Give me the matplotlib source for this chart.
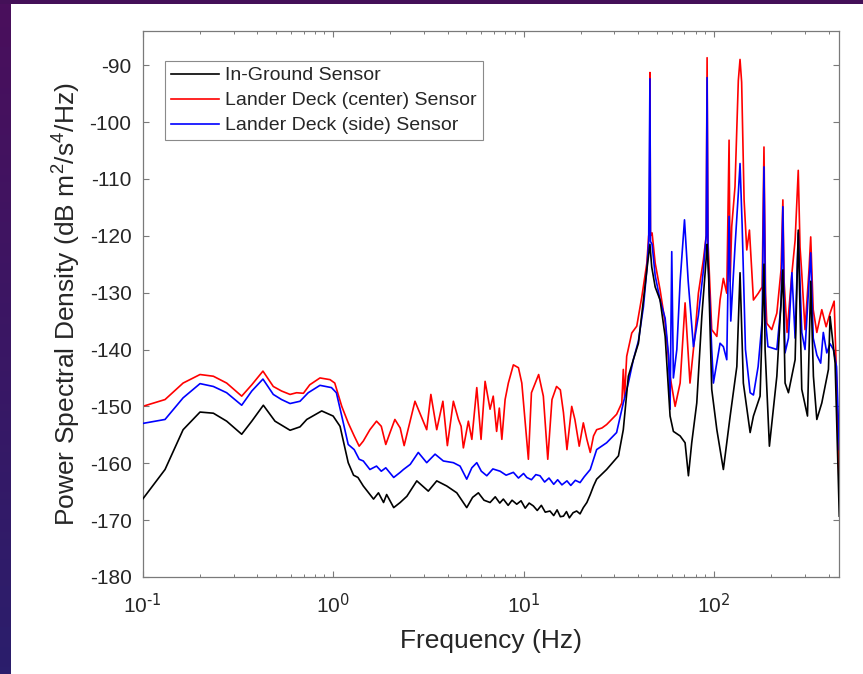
import matplotlib.pyplot as plt
import numpy as np
from matplotlib.patches import Rectangle
from matplotlib.ticker import FixedLocator, FuncFormatter, NullFormatter

# valores (Hz, dB)
freq_suelo = [0.1, 0.131, 0.163, 0.2, 0.235, 0.276, 0.331, 0.374, 0.43, 0.495,
              0.594, 0.67, 0.727, 0.871, 1.0, 1.087, 1.2, 1.28, 1.35, 1.44,
              1.63, 1.73, 1.84, 1.91, 2.08, 2.25, 2.44, 2.75, 3.16, 3.5,
              3.95, 4.46, 5.03, 5.4, 5.79, 6.2, 6.67, 7.1, 7.5, 7.83,
              8.3, 8.7, 9.21, 9.7, 10.2, 10.7, 11.25, 11.8, 12.4, 13.0,
              13.76, 14.4, 15.0, 15.6, 16.2, 16.8, 17.4, 18.2, 19.0, 19.8,
              20.6, 21.5, 22.4, 23.3, 24.2, 27.3, 31.5, 33.4, 35.5, 37.7,
              40.1, 42.6, 44.4, 46.1, 47.1, 49.1, 52.1, 55.4, 58.8, 61.2,
              66.4, 70.5, 73.4, 76.4, 81.2, 86.3, 91.0, 92.0, 93.7, 97.3,
              103.5, 112.0, 121.6, 131.8, 137.0, 142.6, 154.8, 161.1, 174.6, 183.0,
              185.5, 195.4, 213.8, 230.0, 236.2, 246.0, 266.7, 277.0, 289.0, 309.7,
              322.0, 332.7, 346.7, 368.2, 399.0, 407.0, 432.5, 455.0]
psd_suelo = [-166.3, -161.1, -154.1, -151.0, -151.2, -152.6, -154.9, -152.6, -149.8, -152.6,
             -154.2, -153.6, -152.3, -150.8, -151.7, -153.5, -159.9, -162.1, -162.5, -164.0,
             -166.3, -165.2, -166.9, -165.5, -167.8, -166.9, -165.8, -163.1, -164.9, -163.1,
             -164.0, -165.2, -167.8, -166.0, -165.2, -166.5, -166.9, -165.9, -167.0, -166.3,
             -167.4, -166.5, -167.2, -166.6, -167.9, -167.0, -167.5, -168.3, -167.4, -168.6,
             -168.4, -169.2, -168.2, -169.4, -169.3, -168.5, -169.6, -168.7, -168.4, -168.9,
             -167.8, -166.9, -165.5, -164.0, -162.8, -161.1, -158.7, -154.1, -144.7, -141.8,
             -138.9, -131.3, -126.0, -121.5, -125.5, -129.0, -131.3, -137.7, -151.7, -154.4,
             -155.2, -156.4, -162.2, -156.4, -149.4, -134.2, -124.0, -121.5, -127.0, -147.0,
             -154.1, -161.1, -151.7, -143.0, -126.5, -145.9, -154.6, -151.7, -148.2, -125.0,
             -140.0, -157.0, -144.7, -126.0, -145.9, -147.6, -141.8, -119.0, -147.0, -151.7,
             -128.0, -144.7, -152.3, -149.4, -143.5, -134.2, -142.4, -169.3]

freq_centro = [0.1, 0.131, 0.163, 0.2, 0.235, 0.276, 0.331, 0.374, 0.428, 0.485,
               0.536, 0.594, 0.643, 0.698, 0.754, 0.853, 0.963, 1.02, 1.11, 1.2,
               1.29, 1.37, 1.44, 1.56, 1.69, 1.79, 1.89, 1.99, 2.11, 2.25,
               2.36, 2.69, 3.10, 3.26, 3.50, 3.77, 3.98, 4.28, 4.55, 4.70,
               4.83, 5.13, 5.35, 5.68, 5.98, 6.28, 6.67, 6.93, 7.22, 7.46,
               7.69, 8.00, 8.32, 8.84, 9.40, 9.79, 10.6, 11.0, 12.0, 12.7,
               13.4, 14.1, 14.9, 15.6, 16.2, 16.9, 17.9, 18.6, 19.6, 20.6,
               21.5, 22.4, 23.3, 24.2, 25.8, 27.3, 29.0, 30.8, 32.8, 33.4,
               33.9, 34.8, 37.0, 39.3, 41.8, 44.4, 45.4, 45.9, 46.1, 46.4,
               47.3, 49.1, 52.1, 55.4, 58.8, 62.5, 66.4, 70.5, 74.8, 79.6,
               82.8, 88.0, 91.0, 92.0, 93.0, 97.3, 103.5, 107.6, 112.0, 116.7,
               120.0, 121.6, 123.9, 128.9, 134.2, 137.0, 139.7, 143.9, 148.6, 153.5,
               161.1, 171.0, 179.0, 183.0, 186.5, 189.3, 201.1, 213.8, 225.0, 230.0,
               233.4, 242.0, 256.5, 266.7, 277.0, 283.0, 289.0, 300.6, 315.5, 322.0,
               331.9, 346.7, 368.2, 388.0, 407.0, 427.6, 440.0, 455.0]
psd_centro = [-150.0, -148.8, -145.9, -144.4, -144.7, -145.9, -148.2, -146.2, -143.8, -146.5,
              -147.3, -147.9, -147.6, -147.7, -146.2, -145.0, -145.3, -145.9, -150.0, -152.9,
              -155.2, -157.0, -156.1, -154.1, -152.6, -153.5, -156.7, -154.6, -152.3, -153.8,
              -156.9, -149.1, -154.1, -147.9, -154.1, -149.1, -156.9, -149.1, -152.3, -153.5,
              -157.3, -152.6, -155.8, -146.7, -155.8, -145.6, -150.5, -148.2, -154.4, -150.3,
              -155.8, -148.8, -145.9, -142.7, -143.2, -145.9, -159.3, -147.6, -144.4, -148.2,
              -159.3, -148.8, -146.5, -147.1, -151.1, -157.6, -150.0, -152.3, -157.0, -152.9,
              -155.8, -158.1, -155.2, -154.1, -153.8, -153.2, -152.3, -151.4, -149.4, -143.5,
              -148.5, -141.2, -137.1, -135.9, -130.7, -124.8, -120.0, -119.5, -91.3, -120.0,
              -119.5, -124.8, -129.5, -135.3, -144.7, -150.0, -145.9, -131.8, -145.9, -137.1,
              -130.1, -124.2, -120.0, -88.7, -121.0, -136.5, -137.7, -131.3, -127.5, -130.1,
              -103.2, -128.0, -118.4, -111.4, -92.7, -89.0, -93.0, -113.7, -122.5, -119.0,
              -131.3, -130.1, -129.0, -104.4, -130.0, -135.4, -136.5, -133.6, -126.0, -113.7,
              -128.0, -137.0, -126.6, -120.8, -108.5, -122.0, -126.6, -136.5, -126.0, -120.2,
              -133.0, -137.0, -133.0, -136.0, -133.6, -131.5, -145.0, -165.8]

freq_lado = [0.1, 0.131, 0.163, 0.2, 0.235, 0.276, 0.331, 0.374, 0.428, 0.485,
             0.536, 0.594, 0.67, 0.74, 0.853, 0.98, 1.04, 1.11, 1.2, 1.29,
             1.37, 1.44, 1.56, 1.69, 1.79, 1.89, 2.08, 2.25, 2.34, 2.54,
             2.80, 3.10, 3.43, 3.79, 4.28, 4.64, 5.03, 5.35, 5.68, 6.0,
             6.41, 6.9, 7.53, 8.1, 8.84, 9.4, 10.0, 10.4, 11.0, 11.6,
             12.2, 12.9, 13.6, 14.4, 15.1, 15.9, 16.9, 17.7, 18.7, 19.8,
             20.8, 22.4, 24.2, 27.3, 30.8, 33.4, 35.5, 37.7, 40.1, 42.6,
             44.4, 45.4, 46.1, 46.4, 47.3, 49.1, 52.1, 55.4, 57.7, 58.8,
             60.0, 61.2, 63.8, 66.4, 70.0, 73.2, 78.0, 82.8, 88.0, 91.0,
             92.0, 93.0, 97.3, 99.3, 107.6, 112.0, 116.7, 120.0, 122.5, 128.9,
             134.5, 137.0, 140.5, 146.3, 154.8, 161.1, 170.5, 179.0, 183.0, 186.5,
             192.0, 213.8, 225.0, 230.0, 233.4, 236.0, 246.0, 256.5, 266.7, 277.0,
             289.0, 300.6, 322.0, 332.0, 347.0, 363.3, 375.0, 391.0, 407.0, 423.6,
             440.0, 455.0]
psd_lado = [-153.0, -152.3, -148.5, -146.0, -146.5, -147.6, -149.8, -147.3, -145.2, -147.9,
            -148.8, -149.5, -149.1, -147.6, -146.3, -146.7, -147.6, -151.7, -156.7, -157.6,
            -159.3, -159.6, -161.1, -160.5, -161.4, -160.8, -162.5, -161.6, -161.1, -160.2,
            -158.1, -159.9, -158.4, -159.6, -159.9, -160.5, -162.8, -160.8, -159.9, -161.4,
            -162.2, -161.0, -161.4, -162.1, -161.6, -162.6, -161.8, -162.5, -162.9, -162.0,
            -162.2, -163.3, -162.6, -163.7, -162.9, -163.8, -163.1, -163.9, -163.0, -163.4,
            -162.4, -161.1, -157.6, -156.4, -154.6, -149.4, -145.9, -141.8, -138.5, -132.5,
            -126.0, -121.0, -92.4, -121.0, -121.5, -127.0, -131.3, -134.5, -141.0, -150.5,
            -122.8, -145.0, -140.0, -128.0, -117.2, -128.0, -139.5, -134.0, -126.0, -120.0,
            -92.2, -124.0, -140.0, -145.9, -138.9, -139.5, -141.8, -116.6, -135.0, -122.0,
            -112.0, -107.3, -118.0, -140.0, -147.6, -148.0, -143.0, -135.0, -107.9, -135.0,
            -139.5, -140.0, -132.0, -114.9, -132.0, -140.6, -138.0, -126.5, -138.0, -119.5,
            -137.0, -140.0, -123.0, -138.0, -141.0, -142.4, -137.0, -140.6, -139.0, -140.0,
            -143.0, -157.6]

etiquetas = ["In-Ground Sensor", "Lander Deck (center) Sensor", "Lander Deck (side) Sensor"]
marcas_y = [-180, -170, -160, -150, -140, -130, -120, -110, -100, -90]
marcas_x = [0.1, 1, 10, 100]

plt.rcParams['font.family'] = ['Liberation Sans', 'DejaVu Sans']
plt.rcParams['mathtext.default'] = 'regular'
plt.rcParams['axes.unicode_minus'] = False

fig = plt.figure(figsize=(8.63, 6.74), dpi=100, facecolor='white')

# franjas oscuras del fondo de la diapositiva
fondo = fig.add_axes([0, 0, 10 / 863, 1])
fondo.imshow(np.linspace(0, 1, 100).reshape(-1, 1), aspect='auto',
             cmap=plt.matplotlib.colors.LinearSegmentedColormap.from_list('f', ['#4a0f5c', '#2b1e6c']))
fondo.axis('off')
fig.add_artist(Rectangle((0, 1 - 3.5 / 674), 1, 3.5 / 674, transform=fig.transFigure,
                         facecolor='#441058', edgecolor='none'))

ax = fig.add_axes([142.7 / 863, 97 / 674, 696.6 / 863, 546 / 674])

gris = '#262626'
ax.plot(freq_centro, psd_centro, color=(1, 0, 0), lw=1.2, label=etiquetas[1], zorder=2)
ax.plot(freq_lado, psd_lado, color=(0, 0, 1), lw=1.2, label=etiquetas[2], zorder=3)
ax.plot(freq_suelo, psd_suelo, color='k', lw=1.2, label=etiquetas[0], zorder=4)

ax.set_xscale('log')
ax.set_xlim(0.1, 455)
ax.set_ylim(-180, -84)
ax.set_yticks(marcas_y)
ax.xaxis.set_major_locator(FixedLocator(marcas_x))
ax.xaxis.set_minor_locator(FixedLocator([m * d for d in [0.1, 1, 10, 100] for m in range(2, 10)]))
# exponente con guion normal, como en el original
ax.xaxis.set_major_formatter(FuncFormatter(lambda v, p: "10$^{\\text{%d}}$" % round(np.log10(v))))
ax.xaxis.set_minor_formatter(NullFormatter())

ax.tick_params(which='both', direction='in', top=True, right=True, colors='#7a7a7a',
               labelcolor=gris, labelsize=15)
ax.tick_params(which='major', length=4.3, width=0.8)
ax.tick_params(which='minor', length=2.4, width=0.7)
ax.tick_params(axis='x', pad=11)
ax.tick_params(axis='y', pad=8)
for lado in ax.spines.values():
    lado.set_color('#7a7a7a')
    lado.set_linewidth(0.9)

ax.set_xlabel("Frequency (Hz)", fontsize=19, color=gris, labelpad=9)
ax.set_ylabel("Power Spectral Density (dB m$^2$/s$^4$/Hz)", fontsize=19, color=gris, labelpad=5)

# orden de la leyenda: suelo, centro, lado
h, l = ax.get_legend_handles_labels()
orden = [2, 0, 1]
leg = ax.legend([h[i] for i in orden], [l[i] for i in orden], loc='upper left',
                bbox_to_anchor=(0.032, 0.945), borderaxespad=0, fontsize=14,
                fancybox=False, framealpha=1, edgecolor='#8a8a8a',
                handlelength=2.5, handletextpad=0.3, labelspacing=0.38, borderpad=0.3)
leg.get_frame().set_linewidth(0.8)
for t in leg.get_texts():
    t.set_color(gris)

plt.savefig("out.png", dpi=100)
